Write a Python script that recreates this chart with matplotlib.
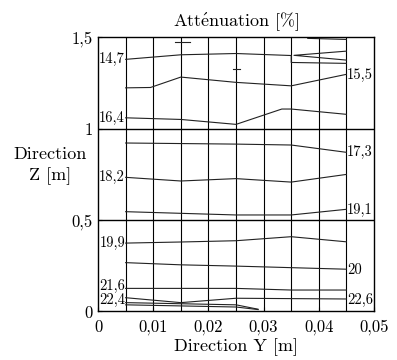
import matplotlib.pyplot as plt
from matplotlib.ticker import FuncFormatter

plt.rcParams['font.family'] = ['cmr10', 'DejaVu Serif']
plt.rcParams['mathtext.fontset'] = 'cm'
plt.rcParams['axes.formatter.use_mathtext'] = True

# contour lines (x in m, z in m)
x_147 = [0.005, 0.015, 0.025, 0.035, 0.035, 0.045]
z_147 = [1.380, 1.405, 1.412, 1.401, 1.363, 1.358]
x_wedge = [0.045, 0.0355, 0.045]
z_wedge = [1.425, 1.402, 1.376]
x_top = [0.038, 0.045]
z_top = [1.495, 1.489]
x_155 = [0.005, 0.0095, 0.015, 0.025, 0.035, 0.045]
z_155 = [1.224, 1.226, 1.283, 1.254, 1.235, 1.298]
x_164 = [0.005, 0.015, 0.025, 0.0333, 0.035, 0.045]
z_164 = [1.060, 1.051, 1.024, 1.108, 1.108, 1.079]
x_173 = [0.005, 0.025, 0.035, 0.045]
z_173 = [0.922, 0.916, 0.911, 0.871]
x_182 = [0.005, 0.015, 0.025, 0.035, 0.045]
z_182 = [0.734, 0.714, 0.727, 0.708, 0.750]
x_191 = [0.005, 0.025, 0.035, 0.045]
z_191 = [0.546, 0.528, 0.528, 0.559]
x_199 = [0.005, 0.015, 0.025, 0.035, 0.045]
z_199 = [0.374, 0.380, 0.387, 0.409, 0.381]
x_20 = [0.005, 0.015, 0.025, 0.045]
z_20 = [0.267, 0.255, 0.248, 0.231]
x_216 = [0.005, 0.025, 0.035, 0.045]
z_216 = [0.126, 0.126, 0.117, 0.117]
x_224 = [0.005, 0.015, 0.025, 0.045]
z_224 = [0.075, 0.048, 0.072, 0.068]
x_lowB = [0.005, 0.025, 0.029]
z_lowB = [0.048, 0.036, 0.012]
x_lowC = [0.005, 0.025, 0.029]
z_lowC = [0.036, 0.024, 0.010]
x_dash1 = [0.0140, 0.0166]
z_dash1 = [1.473, 1.473]
x_dash2 = [0.0244, 0.0257]
z_dash2 = [1.325, 1.325]

lines = [(x_147, z_147), (x_wedge, z_wedge), (x_top, z_top), (x_155, z_155),
         (x_164, z_164), (x_173, z_173), (x_182, z_182), (x_191, z_191),
         (x_199, z_199), (x_20, z_20), (x_216, z_216), (x_224, z_224),
         (x_lowB, z_lowB), (x_lowC, z_lowC), (x_dash1, z_dash1), (x_dash2, z_dash2)]

left_labels = ['14,7', '16,4', '18,2', '19,9', '21,6', '22,4']
left_z = [1.381, 1.058, 0.736, 0.374, 0.140, 0.062]
right_labels = ['15,5', '17,3', '19,1', '20', '22,6']
right_z = [1.294, 0.873, 0.555, 0.226, 0.060]

fig = plt.figure(figsize=(3.97, 3.6), dpi=100)
ax = fig.add_axes([0.247, 0.135, 0.695, 0.761])

for xv in [0.005 * i for i in range(1, 10)]:
    ax.axvline(xv, color='black', lw=0.8)
for zv in [0.5, 1.0]:
    ax.axhline(zv, color='black', lw=1.0)

for xs, zs in lines:
    ax.plot(xs, zs, color='#222222', lw=0.8)

for lab, z in zip(left_labels, left_z):
    ax.text(0.0049, z, lab, ha='right', va='center', fontsize=10.5)
for lab, z in zip(right_labels, right_z):
    ax.text(0.0451, z, lab, ha='left', va='center', fontsize=10.5)

ax.set_xlim(0, 0.05)
ax.set_ylim(0, 1.5)
ax.set_xticks([0, 0.01, 0.02, 0.03, 0.04, 0.05])
ax.set_yticks([0, 0.5, 1, 1.5])
fmt = FuncFormatter(lambda v, p: ('%g' % round(v, 3)).replace('.', ','))
ax.xaxis.set_major_formatter(fmt)
ax.yaxis.set_major_formatter(fmt)
ax.tick_params(direction='in', labelsize=12, length=3)
ax.tick_params(axis='x', pad=6)
ax.tick_params(axis='y', pad=4)
for s in ax.spines.values():
    s.set_linewidth(1.0)

ax.set_title(r'Att$\mathrm{\acute{e}}$nuation [%]', fontsize=13, pad=8)
ax.set_xlabel('Direction Y [m]', fontsize=13, labelpad=2)
fig.text(0.126, 0.54, 'Direction\nZ [m]', ha='center', va='center',
         fontsize=13, linespacing=1.4)

fig.savefig('out.png', dpi=100)
